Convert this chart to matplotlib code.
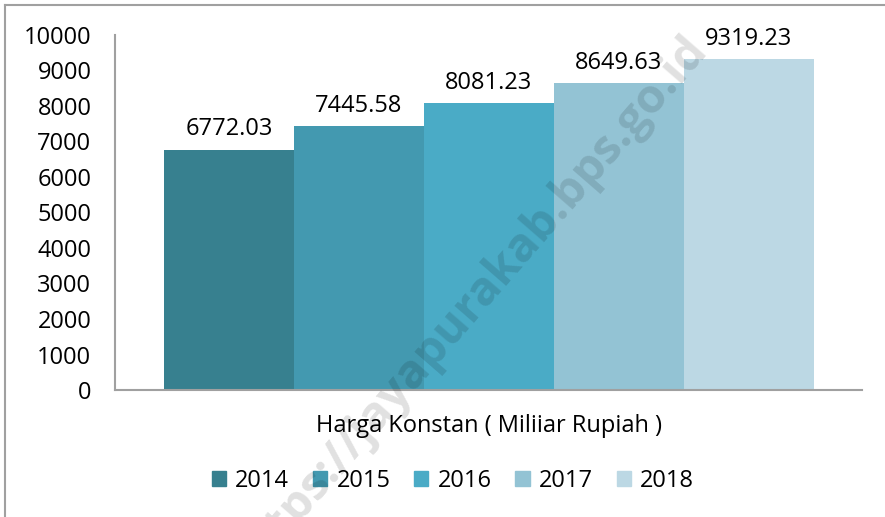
import matplotlib.pyplot as plt
from matplotlib.lines import Line2D
from matplotlib.patches import Patch

plt.rcParams['font.family'] = ['Open Sans', 'DejaVu Sans']

years = ["2014", "2015", "2016", "2017", "2018"]
values = [6772.03, 7445.58, 8081.23, 8649.63, 9319.23]
category = "Harga Konstan ( Miliiar Rupiah )"
colors = ["#37808f", "#4399b0", "#4aabc6", "#93c3d4", "#bcd8e4"]

W, H = 885, 517
fig = plt.figure(figsize=(W / 100, H / 100), dpi=100)
ax = fig.add_axes([115 / W, 1 - 390 / H, (862 - 115) / W, (390 - 35) / H])

w = 130 / 747
start = -0.5 + (164 - 115) / 747
for i, (yr, v) in enumerate(zip(years, values)):
    x = start + w * (i + 0.5)
    ax.bar(x, v, width=w, color=colors[i], label=yr)
    ax.text(x, v + 230, f"{v:.2f}", ha="center", va="bottom", fontsize=17)

ax.set_xlim(-0.5, 0.5)
ax.set_ylim(0, 10000)
ax.set_yticks(range(0, 10001, 1000))
ax.set_xticks([0])
ax.set_xticklabels([category])
ax.tick_params(axis="y", length=0, pad=17, labelsize=17)
ax.tick_params(axis="x", length=0, pad=17, labelsize=17)
for s in ["top", "right"]:
    ax.spines[s].set_visible(False)
for s in ["left", "bottom"]:
    ax.spines[s].set_color("#a0a0a0")
    ax.spines[s].set_linewidth(1.5)

handles = [Patch(color=c) for c in colors]
fig.legend(handles, years, loc="center", bbox_to_anchor=(453 / W, 1 - 481 / H),
           ncol=5, frameon=False, fontsize=17, handlelength=0.6, handleheight=0.6,
           handletextpad=0.4, columnspacing=1.0)

# watermark
fig.text(470 / W, 1 - 305 / H, "https://jayapurakab.bps.go.id", rotation=49,
         ha="center", va="center", fontsize=34, fontweight="bold",
         color="black", alpha=0.12, zorder=10)

# frame border (top and left)
fig.add_artist(Line2D([5 / W, 1], [1 - 5 / H, 1 - 5 / H], color="#a0a0a0", lw=1.5))
fig.add_artist(Line2D([5 / W, 5 / W], [0, 1 - 5 / H], color="#a0a0a0", lw=1.5))

fig.savefig("out.png", dpi=100)
